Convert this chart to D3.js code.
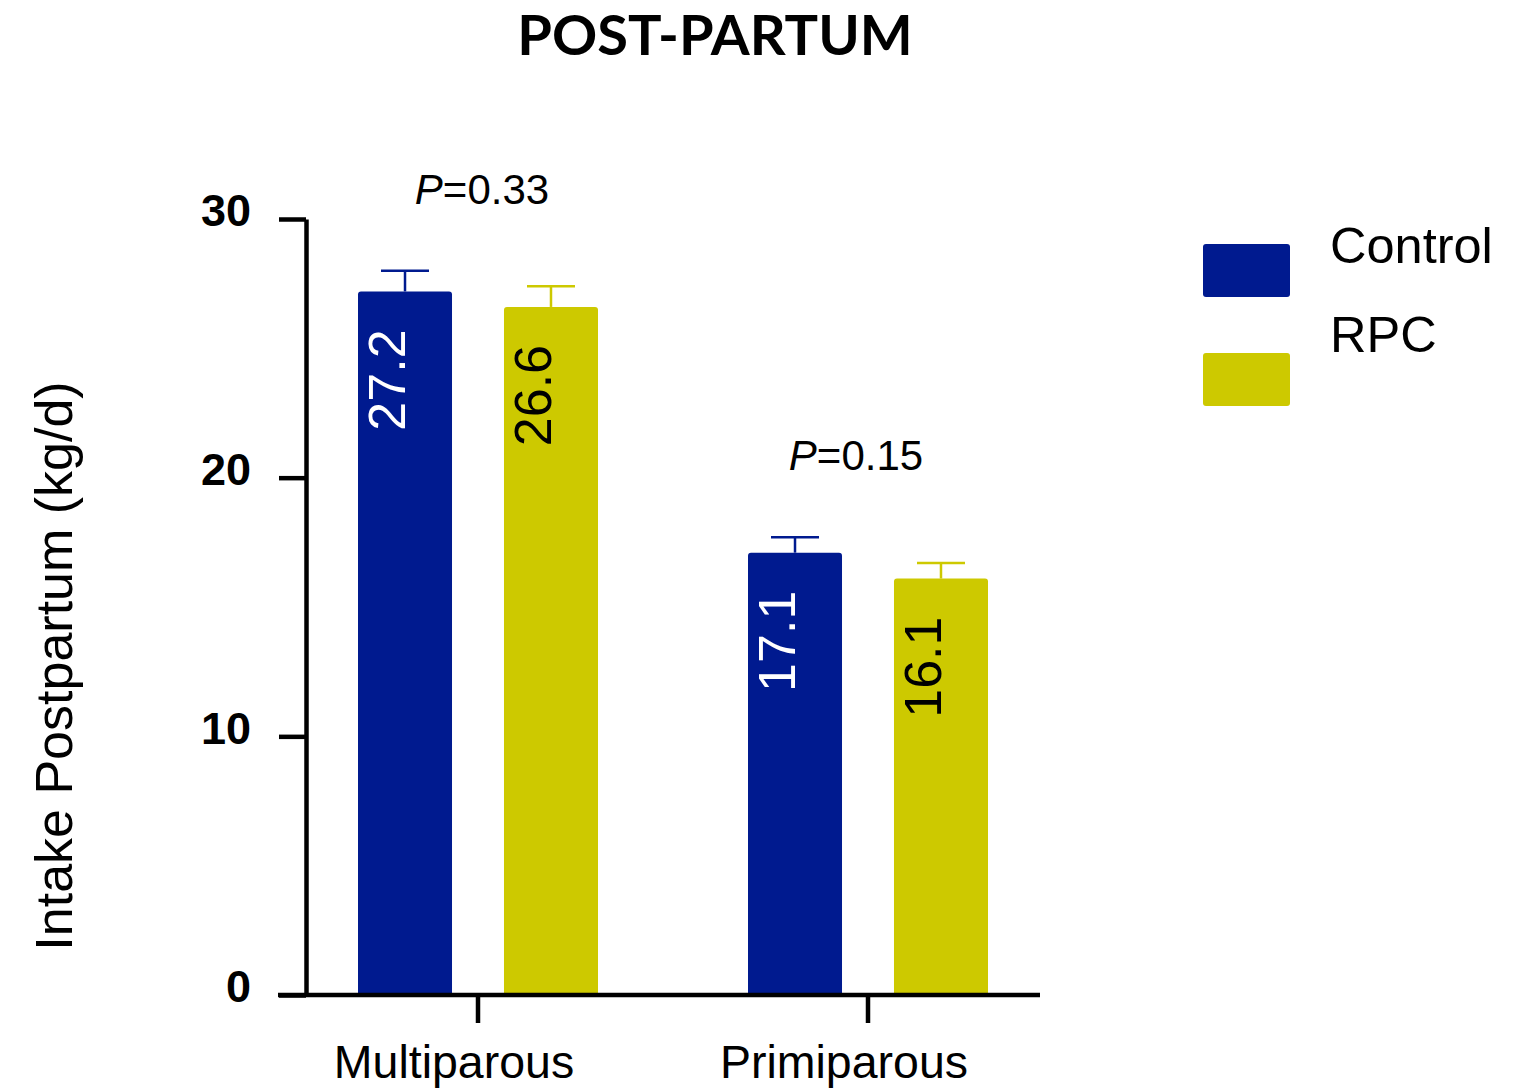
<!DOCTYPE html>
<html>
<head>
<meta charset="utf-8">
<script src="https://cdn.jsdelivr.net/npm/d3@7"></script>
<style>
	body { margin: 0; background: #fff; }
	svg { display: block; font-family: 'Liberation Sans', Arial, sans-serif; }
	.axis path, .axis line { stroke: #000; stroke-width: 4.5; }
</style>
</head>
<body>
<svg id="chart" width="1525" height="1089"></svg>
<script>

var groups = ['Multiparous', 'Primiparous'];
var series = ['Control', 'RPC'];
var means = {
	Control: [27.2, 17.1],
	RPC: [26.6, 16.1]
};
var errors = {
	Control: [0.8, 0.6],
	RPC: [0.8, 0.6]
};
var pValues = ['0.33', '0.15'];
var yTicks = [0, 10, 20, 30];

var colors = { Control: '#001a8f', RPC: '#cdc900' };
var labelColors = { Control: '#fff', RPC: '#000' };

var svg = d3.select('#chart');

var plot = {
	left: 306,
	right: 1040,
	top: 219,
	bottom: 995
}

var y = d3.scaleLinear()
	.domain([0, 30])
	.range([plot.bottom, plot.top]);

var x0 = d3.scaleBand()
	.domain(groups)
	.range([283, 1063]);

var x1 = d3.scaleBand()
	.domain(series)
	.range([-120, 120])
	.paddingInner(0.356);

// title
svg.append('text')
	.attr('x', 715)
	.attr('y', 55)
	.attr('text-anchor', 'middle')
	.style('font-family', 'Lato, sans-serif')
	.style('font-weight', 'bold')
	.style('font-size', '56px')
	.text('POST-PARTUM');

// bars

var rows = [];
groups.forEach((g, gi) => {
	series.forEach(s => {
		rows.push({ group: g, series: s, value: means[s][gi], err: errors[s][gi] });
	});
});

var bar = svg.append('g')
	.selectAll('g')
	.data(rows)
	.enter()
	.append('g')
	.attr('transform', d => `translate(${x0(d.group) + x0.bandwidth() / 2 + x1(d.series)},0)`);

bar.append('path')
	.attr('fill', d => colors[d.series])
	.attr('d', d => {
		var w = x1.bandwidth(), top = y(d.value), r = 3, b = y(0);
		return `M0,${b}V${top + r}Q0,${top} ${r},${top}H${w - r}Q${w},${top} ${w},${top + r}V${b}Z`;
	});

// error bars
bar.append('line')
	.attr('x1', x1.bandwidth() / 2)
	.attr('x2', x1.bandwidth() / 2)
	.attr('y1', d => y(d.value))
	.attr('y2', d => y(d.value + d.err))
	.attr('stroke', d => colors[d.series])
	.attr('stroke-width', 2.5);

bar.append('line')
	.attr('x1', x1.bandwidth() / 2 - 24)
	.attr('x2', x1.bandwidth() / 2 + 24)
	.attr('y1', d => y(d.value + d.err))
	.attr('y2', d => y(d.value + d.err))
	.attr('stroke', d => colors[d.series])
	.attr('stroke-width', 2.5);

// value labels inside bars
bar.append('text')
	.attr('transform', d => `translate(${x1.bandwidth() / 2},${y(d.value) + 38}) rotate(-90)`)
	.attr('text-anchor', 'end')
	.attr('fill', d => labelColors[d.series])
	.style('font-size', '52px')
	.text(d => d3.format('.1f')(d.value));

// p values above each group
svg.append('g')
	.selectAll('text')
	.data(groups)
	.enter()
	.append('text')
	.attr('x', (d, i) => x0(d) + x0.bandwidth() / 2 + (i === 0 ? 4 : -12))
	.attr('y', (d, i) => y(d3.max(series, s => means[s][i] + errors[s][i])) - 67)
	.attr('text-anchor', 'middle')
	.style('font-size', '42px')
	.html((d, i) => `<tspan font-style="italic">P</tspan>=${pValues[i]}`);

// axes

var yAxis = svg.append('g')
	.attr('class', 'axis')
	.attr('transform', `translate(${plot.left},0)`)
	.call(d3.axisLeft(y).tickValues(yTicks).tickSizeInner(27).tickSizeOuter(0).tickPadding(28));

yAxis.selectAll('text')
	.attr('dy', '0.15em')
	.attr('fill', '#000')
	.style('font-size', '45px')
	.style('font-weight', 'bold')
	.style('font-family', "'Liberation Sans', Arial, sans-serif");

var xAxis = svg.append('g')
	.attr('class', 'axis')
	.attr('transform', `translate(0,${plot.bottom})`)
	.call(d3.axisBottom(x0).tickSizeInner(28).tickSizeOuter(0).tickPadding(22));

xAxis.select('.domain').remove();

xAxis.append('line')
	.attr('x1', plot.left - 28)
	.attr('x2', plot.right)
	.attr('stroke', '#000')
	.attr('stroke-width', 5);

xAxis.selectAll('text')
	.attr('x', -24)
	.attr('fill', '#000')
	.style('font-size', '46.5px')
	.style('font-family', "'Liberation Sans', Arial, sans-serif");

// y label
svg.append('text')
	.attr('transform', 'translate(72,666) rotate(-90)')
	.attr('text-anchor', 'middle')
	.style('font-size', '52px')
	.text('Intake Postpartum (kg/d)');

// legend
var legend = svg.append('g')
	.selectAll('g')
	.data(series)
	.enter()
	.append('g');

legend.append('rect')
	.attr('x', 1203)
	.attr('y', (d, i) => 244 + i * 109)
	.attr('width', 87)
	.attr('height', 53)
	.attr('rx', 3)
	.attr('fill', d => colors[d]);

legend.append('text')
	.attr('x', 1330)
	.attr('y', (d, i) => 263 + i * 89)
	.style('font-size', '50.5px')
	.text(d => d);

</script>
</body>
</html>
